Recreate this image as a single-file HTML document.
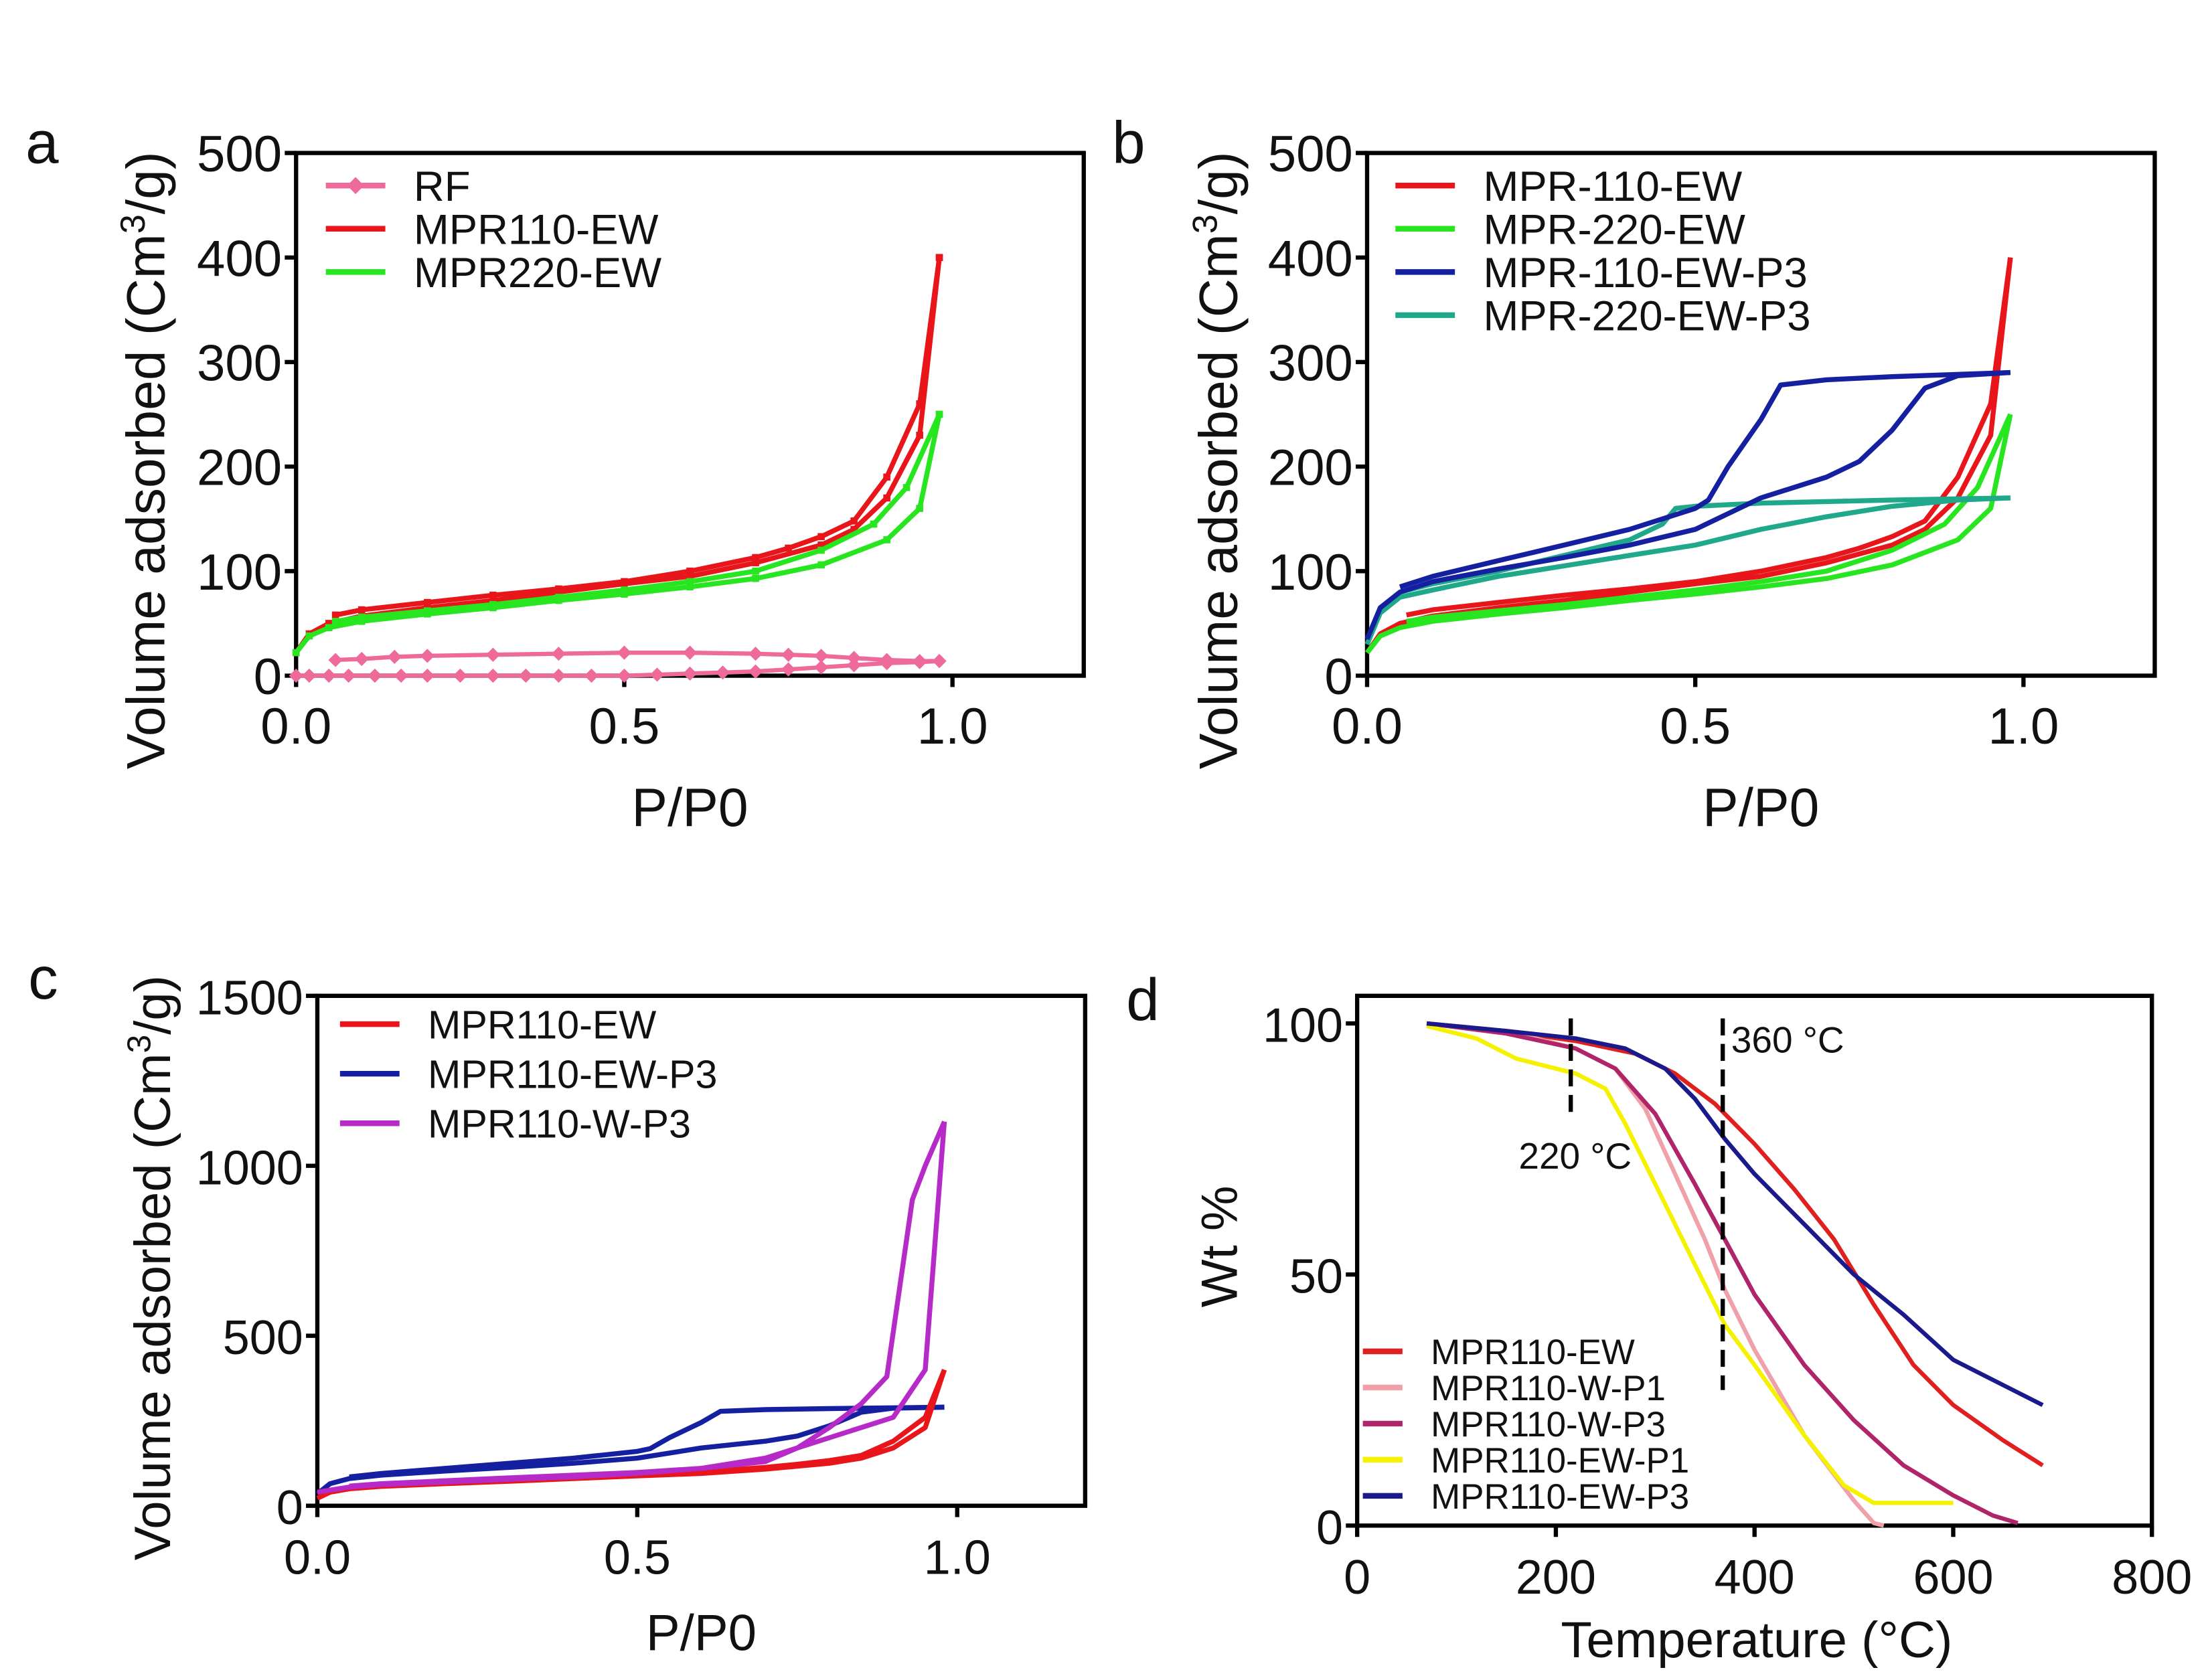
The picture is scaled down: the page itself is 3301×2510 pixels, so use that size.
<!DOCTYPE html>
<html><head><meta charset="utf-8"><style>
html,body{margin:0;padding:0;background:#fff;}
svg{display:block;font-family:"Liberation Sans",Arial,sans-serif;}
</style></head><body>
<svg id="fig" width="3301" height="2510" viewBox="0 0 1560 1186" preserveAspectRatio="none" xmlns="http://www.w3.org/2000/svg">
<g id="layer"></g>
</svg>
<script>
// ---------- Data ----------
const rfAdsX=[0,0.02,0.05,0.08,0.12,0.16,0.2,0.25,0.3,0.35,0.4,0.45,0.5,0.55,0.6,0.65,0.7,0.75,0.8,0.85,0.9,0.95,0.98];
const rfAdsY=[0,0,0,0,0,0,0,0,0,0,0,0,0,1,2,3,4,6,8,10,12,13,14];
const rfDesX=[0.98,0.95,0.9,0.85,0.8,0.75,0.7,0.6,0.5,0.4,0.3,0.2,0.15,0.1,0.06];
const rfDesY=[14,14,15,17,19,20,21,22,22,21,20,19,18,16,15];
const r110AdsX=[0,0.02,0.05,0.1,0.2,0.3,0.4,0.5,0.6,0.7,0.8,0.85,0.9,0.95,0.98];
const r110AdsY=[22,40,50,57,65,72,80,88,95,108,125,140,170,230,400];
const r110DesX=[0.98,0.95,0.9,0.85,0.8,0.75,0.7,0.6,0.5,0.4,0.3,0.2,0.1,0.06];
const r110DesY=[400,260,190,148,133,122,113,100,90,83,77,70,63,58];
const r220AdsX=[0,0.02,0.05,0.1,0.2,0.3,0.4,0.5,0.6,0.7,0.8,0.9,0.95,0.98];
const r220AdsY=[22,38,46,52,59,65,72,78,85,93,106,130,160,250];
const r220DesX=[0.98,0.93,0.88,0.8,0.7,0.6,0.5,0.4,0.3,0.2,0.1,0.06];
const r220DesY=[250,180,145,120,100,90,82,75,68,62,56,52];
const p110AdsX=[0,0.02,0.05,0.1,0.2,0.3,0.4,0.5,0.6,0.7,0.75,0.8,0.85,0.9,0.98];
const p110AdsY=[35,65,80,90,102,113,125,140,170,190,205,235,275,287,290];
const p110DesX=[0.98,0.8,0.7,0.63,0.6,0.55,0.52,0.5,0.45,0.4,0.3,0.2,0.1,0.05];
const p110DesY=[290,286,283,278,245,200,168,160,150,140,125,110,95,85];
const p220AdsX=[0,0.02,0.05,0.1,0.2,0.3,0.4,0.5,0.6,0.7,0.8,0.9,0.98];
const p220AdsY=[30,60,75,82,95,105,115,125,140,152,162,168,170];
const p220DesX=[0.98,0.8,0.6,0.5,0.47,0.45,0.4,0.3,0.2,0.1,0.05];
const p220DesY=[170,168,165,162,160,145,130,115,100,88,80];
const w3AdsX=[0,0.05,0.1,0.2,0.3,0.4,0.5,0.6,0.7,0.8,0.9,0.95,0.98];
const w3AdsY=[40,55,62,70,78,85,95,110,140,200,260,400,1130];
const w3DesX=[0.98,0.95,0.93,0.89,0.85,0.8,0.75,0.7,0.6,0.5,0.3,0.1,0.05];
const w3DesY=[1130,1000,900,380,300,230,170,130,110,98,82,65,58];
// TGA
const tEW=[70,150,220,280,320,360,400,440,480,520,560,600,650,690];
const wEW=[100,98.5,96.5,94,90,84,76,67,57,44,32,24,17,12];
const tWP1=[70,150,220,260,290,320,350,370,400,450,500,520,530];
const wWP1=[100,98.5,95,91,83,70,57,47,35,18,5,0.5,0];
const tWP3=[70,150,220,260,300,340,370,400,450,500,550,600,640,665];
const wWP3=[100,98,95,91,82,68,57,46,32,21,12,6,2,0.5];
const tEWP1=[70,120,160,220,250,270,300,340,370,400,450,490,520,600];
const wEWP1=[99.5,97,93,90,87,80,68,52,40,32,18,8,4.5,4.5];
const tEWP3=[70,150,220,270,310,340,370,400,450,500,550,600,650,690];
const wEWP3=[100,98.5,97,95,91,85,77,70,60,50,42,33,28,24];
const xTicksP=["0.0","0.5","1.0"];
const yTicksAB=[0,100,200,300,400,500];
const yTicksC=[0,500,1000,1500];
const xTicksD=[0,200,400,600,800];
const yTicksD=[0,50,100];

const NS="http://www.w3.org/2000/svg";
const layer=document.getElementById('layer');
function mk(tag,attrs,parent){const e=document.createElementNS(NS,tag);for(const k in attrs)e.setAttribute(k,attrs[k]);(parent||layer).appendChild(e);return e;}
function txt(x,y,s,size,anchor,parent){const t=mk('text',{x:x,y:y,'font-size':size,'text-anchor':anchor||'start',fill:'#111'},parent);t.textContent=s;return t;}

function panel(o){
  const g=mk('g',{});
  
  
  const sx=v=>o.L+(v-o.x0)/(o.x1-o.x0)*(o.R-o.L);
  const sy=v=>o.B-(v-o.y0)/(o.y1-o.y0)*(o.B-o.T);
  o.sx=sx;o.sy=sy;
  const box=mk('rect',{x:o.L,y:o.T,width:o.R-o.L,height:o.B-o.T,fill:'none',stroke:'#000','stroke-width':3},g);
  
  
  o.xt.forEach(v=>{const x=sx(+v);mk('line',{x1:x,x2:x,y1:o.B,y2:o.B+8,stroke:'#000','stroke-width':3},g);
    const t=txt(x,o.B+48,o.xfmt?o.xfmt(v):String(v),o.tick,'middle',g);
    });
  o.yt.forEach(v=>{const y=sy(v);mk('line',{x1:o.L-8,x2:o.L,y1:y,y2:y,stroke:'#000','stroke-width':3},g);
    const t=txt(o.L-10,y+13,String(v),o.tick,'end',g);
    });
  const pl=txt(o.letter[1],o.letter[2],o.letter[0],42,'start',g);
  
  const xt=txt(o.xtitle[1],o.xtitle[2],o.xtitle[0],o.titleSize,'middle',g);
  
  const yt=mk('text',{transform:`translate(${o.ytitle[1]},${o.ytitle[2]}) rotate(-90)`,'font-size':o.titleSize,'text-anchor':'middle',fill:'#111'},g);
  
  if(o.ytitle[0]==='vol'){yt.appendChild(document.createTextNode('Volume adsorbed (Cm'));
    const s=mk('tspan',{dy:-14,'font-size':o.titleSize*0.65},yt);s.textContent='3';
    const s2=mk('tspan',{dy:14},yt);s2.textContent='/g)';}
  else yt.textContent=o.ytitle[0];
  o.g=g;return o;
}
function series(o,xs,ys,color,name,w,marker){
  const pts=xs.map((x,i)=>o.sx(x).toFixed(1)+','+o.sy(ys[i]).toFixed(1)).join(' ');
  const p=mk('polyline',{points:pts,fill:'none',stroke:color,'stroke-width':w||3.5,'stroke-linejoin':'round'},o.g);
  
  
  if(marker){xs.forEach((x,i)=>{const cx=o.sx(x),cy=o.sy(ys[i]);
    if(marker==='d')mk('polygon',{points:`${cx},${cy-5} ${cx+5},${cy} ${cx},${cy+5} ${cx-5},${cy}`,fill:color},o.g);
    else mk('rect',{x:cx-2.5,y:cy-2.5,width:5,height:5,fill:color},o.g);});}
}
function legend(o,items,x0,y0,dy,size,len){
  items.forEach((it,i)=>{const y=y0+i*dy;
    const l=mk('line',{x1:x0,x2:x0+len,y1:y,y2:y,stroke:it[1],'stroke-width':4},o.g);
    
    if(it[2]==='d')mk('polygon',{points:`${x0+len/2},${y-6} ${x0+len/2+6},${y} ${x0+len/2},${y+6} ${x0+len/2-6},${y}`,fill:it[1]},o.g);
    const t=txt(x0+len+20,y+size*0.36,it[0],size,'start',o.g);
    });
}
const fmt=v=>v;
// Panel a
const A=panel({name:'panel-a',L:209,R:765,T:108,B:477,x0:0,x1:1.2,y0:0,y1:500,xt:xTicksP,yt:yTicksAB,tick:36,titleSize:38,
  letter:['a',18,115],xtitle:['P/P0',487,583],ytitle:['vol',116,325]});
series(A,rfAdsX,rfAdsY,'#ee6a9a','series-rf-ads',3,'d');
series(A,rfDesX,rfDesY,'#ee6a9a','series-rf-des',3,'d');
series(A,r110AdsX,r110AdsY,'#e8161b','series-mpr110-ew-ads',3.5,'s');
series(A,r110DesX,r110DesY,'#e8161b','series-mpr110-ew-des',3.5,'s');
series(A,r220AdsX,r220AdsY,'#27e51f','series-mpr220-ew-ads',3.5,'s');
series(A,r220DesX,r220DesY,'#27e51f','series-mpr220-ew-des',3.5,'s');
legend(A,[['RF','#ee6a9a','d'],['MPR110-EW','#e8161b'],['MPR220-EW','#27e51f']],230,131,30.5,30,42);
// Panel b
const Bp=panel({name:'panel-b',L:965,R:1521,T:108,B:477,x0:0,x1:1.2,y0:0,y1:500,xt:xTicksP,yt:yTicksAB,tick:36,titleSize:38,
  letter:['b',785,115],xtitle:['P/P0',1243,583],ytitle:['vol',873,325]});
series(Bp,r110AdsX,r110AdsY,'#e8161b','series-mpr-110-ew-ads',3.5);
series(Bp,r110DesX,r110DesY,'#e8161b','series-mpr-110-ew-des',3.5);
series(Bp,r220AdsX,r220AdsY,'#27e51f','series-mpr-220-ew-ads',3.5);
series(Bp,r220DesX,r220DesY,'#27e51f','series-mpr-220-ew-des',3.5);
series(Bp,p220AdsX,p220AdsY,'#1fa88a','series-mpr-220-ew-p3-ads',3.5);
series(Bp,p220DesX,p220DesY,'#1fa88a','series-mpr-220-ew-p3-des',3.5);
series(Bp,p110AdsX,p110AdsY,'#1420a0','series-mpr-110-ew-p3-ads',3.5);
series(Bp,p110DesX,p110DesY,'#1420a0','series-mpr-110-ew-p3-des',3.5);
legend(Bp,[['MPR-110-EW','#e8161b'],['MPR-220-EW','#27e51f'],['MPR-110-EW-P3','#1420a0'],['MPR-220-EW-P3','#1fa88a']],985,131,30.5,30,42);
// Panel c
const C=panel({name:'panel-c',L:224,R:766,T:703,B:1063,x0:0,x1:1.2,y0:0,y1:1500,xt:xTicksP,yt:yTicksC,tick:34,titleSize:36,
  letter:['c',20,705],xtitle:['P/P0',495,1165],ytitle:['vol',120,895]});
series(C,p110AdsX,p110AdsY,'#1420a0','series-mpr110-ew-p3-ads',3.5);
series(C,p110DesX,p110DesY,'#1420a0','series-mpr110-ew-p3-des',3.5);
series(C,r110AdsX,r110AdsY,'#e8161b','series-mpr110-ew-ads',3.5);
series(C,r110DesX,r110DesY,'#e8161b','series-mpr110-ew-des',3.5);
series(C,w3AdsX,w3AdsY,'#b62bc8','series-mpr110-w-p3-ads',3.5);
series(C,w3DesX,w3DesY,'#b62bc8','series-mpr110-w-p3-des',3.5);
legend(C,[['MPR110-EW','#e8161b'],['MPR110-EW-P3','#1420a0'],['MPR110-W-P3','#b62bc8']],240,723,35,28,42);
// Panel d
const D=panel({name:'panel-d',L:958,R:1519,T:703,B:1077,x0:0,x1:800,y0:0,y1:105.5,xt:xTicksD,yt:yTicksD,tick:34,titleSize:36,
  letter:['d',795,720],xtitle:['Temperature (°C)',1240,1170],ytitle:['Wt %',873,880]});
series(D,tEW,wEW,'#e0201e','series-mpr110-ew',3);
series(D,tWP1,wWP1,'#f0a0a8','series-mpr110-w-p1',3);
series(D,tWP3,wWP3,'#b0246a','series-mpr110-w-p3',3);
series(D,tEWP1,wEWP1,'#f5f200','series-mpr110-ew-p1',3);
series(D,tEWP3,wEWP3,'#1a1a8c','series-mpr110-ew-p3',3);
[[215,101,81.5],[368,101,27]].forEach(v=>{const l=mk('line',{x1:D.sx(v[0]),x2:D.sx(v[0]),y1:D.sy(v[1]),y2:D.sy(v[2]),stroke:'#000','stroke-width':3,'stroke-dasharray':'12,6'},D.g);
  });
const a1=txt(1072,825,'220 °C',26,'start',D.g);
const a2=txt(1222,743,'360 °C',26,'start',D.g);
legend(D,[['MPR110-EW','#e0201e'],['MPR110-W-P1','#f0a0a8'],['MPR110-W-P3','#b0246a'],['MPR110-EW-P1','#f5f200'],['MPR110-EW-P3','#1a1a8c']],962,954,25.5,25,28);
</script>
</body></html>
